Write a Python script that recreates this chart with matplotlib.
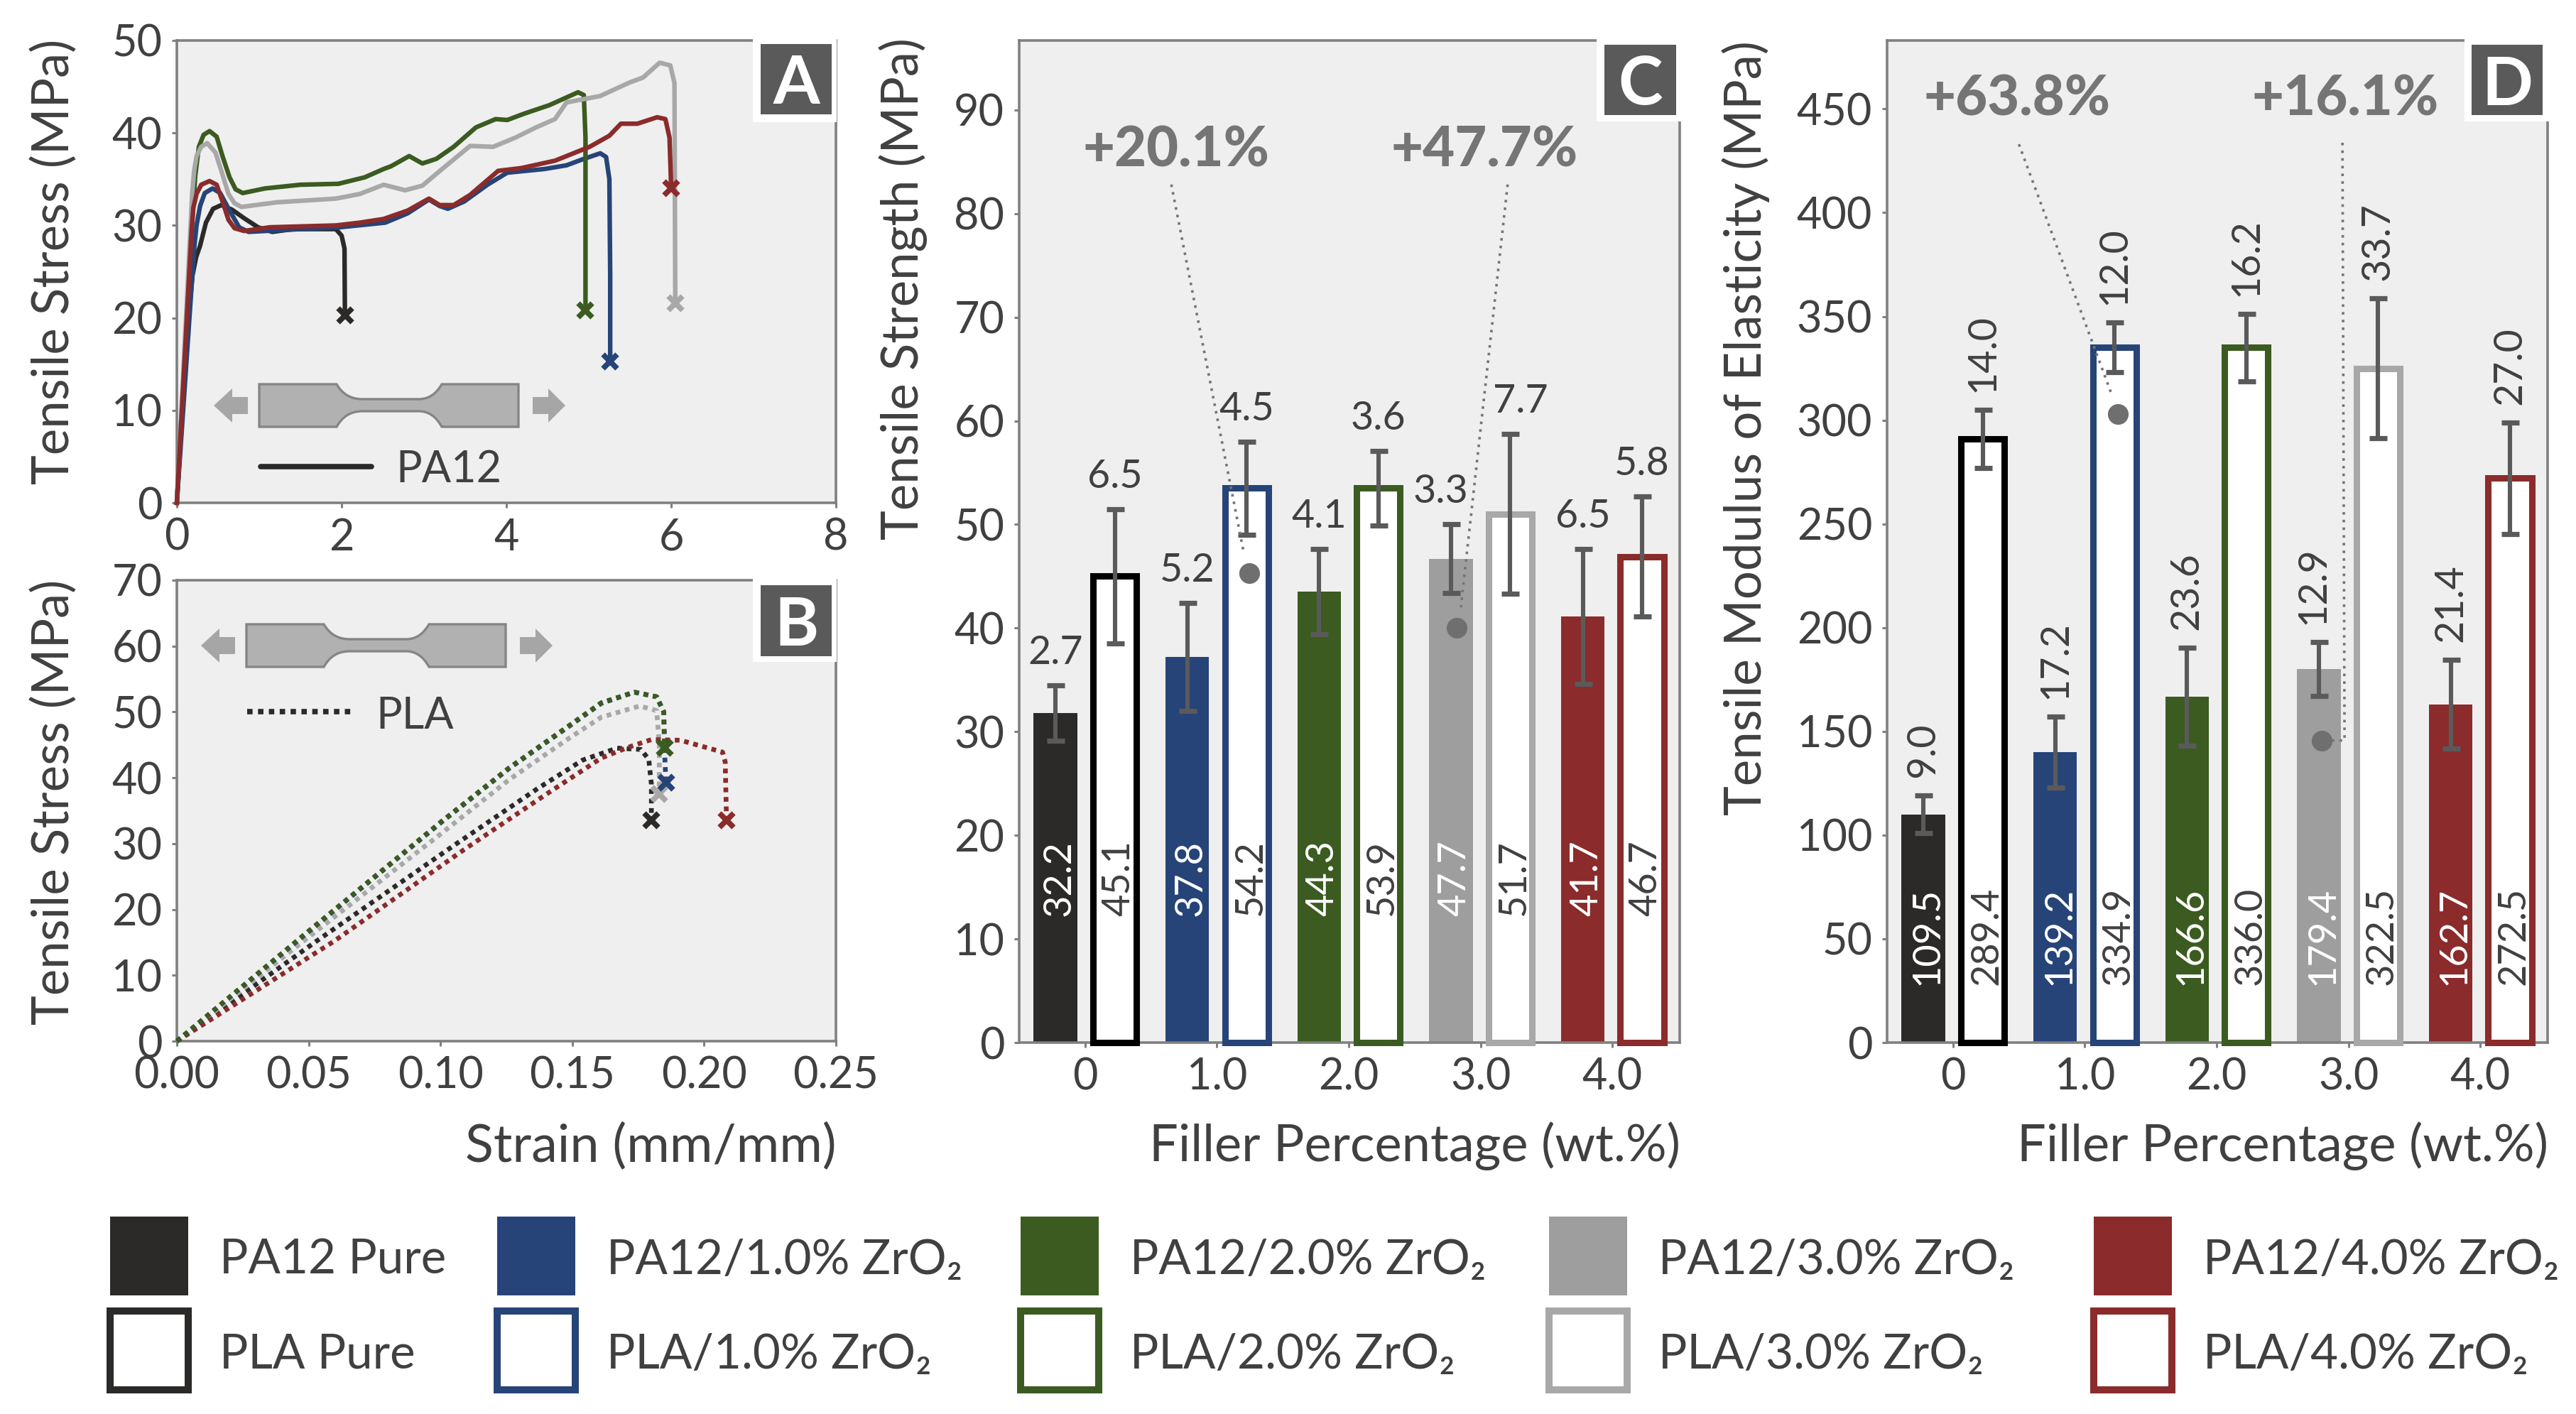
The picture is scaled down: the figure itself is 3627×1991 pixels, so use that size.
import matplotlib
matplotlib.use("Agg")
import matplotlib.pyplot as plt
from matplotlib.patches import Patch, Rectangle, PathPatch, Polygon
from matplotlib.path import Path

plt.rcParams['font.family'] = ['Lato', 'DejaVu Sans']

W, H, DPI = 3627, 1991, 100
TXT = '#404040'
SPINE = '#808080'
BG = '#efefef'
ANN = '#757575'
ERR = '#5a5a5a'

C_BLACK = '#2b2a29'
C_BLUE = '#264478'
C_GREEN = '#3b5b20'
C_GRAY = '#9d9e9d'
C_LGRAY = '#a8a8a8'
C_RED = '#8b2b2b'

# Panel A: PA12 stress-strain curves
a_black_x = [0, .09, .14, .19, .235, .282, .353, .44, .54, .67, .813, .985, 1.158, 1.41, 1.93, 2.0, 2.035, 2.04]
a_black_y = [0, 13.4, 20, 24.6, 26.6, 27.8, 30.3, 31.8, 32.2, 31.7, 30.8, 29.8, 29.3, 29.6, 29.6, 28.9, 27.5, 20.3]
a_blue_x = [0, .21, .239, .282, .339, .434, .526, .64, .756, .87, 1.50, 1.98, 2.53, 2.80, 3.06, 3.19, 3.29, 3.49, 3.77, 4.01, 4.46, 4.73, 4.94, 5.14, 5.21, 5.25, 5.26, 5.26]
a_blue_y = [0, 27.5, 30, 32.1, 33.5, 34, 33.5, 31.6, 29.8, 29.3, 29.6, 29.8, 30.3, 31.3, 32.8, 32.1, 31.8, 32.6, 34.4, 35.7, 36.1, 36.5, 37.2, 37.8, 37.4, 35, 24.6, 15.3]
a_green_x = [0, .167, .187, .224, .267, .325, .397, .483, .554, .64, .713, .80, 1.07, 1.50, 1.96, 2.28, 2.51, 2.60, 2.82, 2.98, 3.15, 3.36, 3.63, 3.87, 4.01, 4.22, 4.52, 4.87, 4.94, 4.96, 4.96]
a_green_y = [0, 27.5, 30.5, 35.4, 38.5, 39.8, 40.2, 39.6, 37.5, 35.2, 33.9, 33.5, 34, 34.4, 34.5, 35.2, 36.1, 36.4, 37.5, 36.7, 37.2, 38.5, 40.6, 41.5, 41.4, 42.1, 43, 44.4, 44.1, 39.5, 20.8]
a_gray_x = [0, .153, .167, .187, .21, .239, .296, .368, .468, .54, .627, .70, .784, 1.216, 1.93, 2.22, 2.51, 2.77, 2.98, 3.22, 3.56, 3.84, 4.11, 4.36, 4.59, 4.73, 5.14, 5.48, 5.66, 5.86, 5.99, 6.04, 6.05]
a_gray_y = [0, 27.5, 30, 33.6, 35.9, 37.5, 38.5, 38.9, 37.9, 35.9, 33.4, 32.4, 32, 32.5, 32.9, 33.4, 34.4, 33.8, 34.3, 36.1, 38.6, 38.5, 39.5, 40.6, 41.5, 43.3, 44, 45.4, 46, 47.6, 47.3, 45.4, 21.6]
a_red_x = [0, .167, .18, .20, .239, .296, .397, .483, .554, .627, .70, .816, 1.13, 1.93, 2.22, 2.51, 2.80, 3.06, 3.19, 3.36, 3.56, 3.90, 4.18, 4.59, 5.01, 5.25, 5.39, 5.59, 5.83, 5.93, 5.98, 6.00]
a_red_y = [0, 27.5, 29.6, 31.9, 33.4, 34.4, 34.8, 34.4, 32.6, 30.6, 29.7, 29.4, 29.8, 30, 30.3, 30.7, 31.6, 32.9, 32.2, 32.2, 33.3, 35.9, 36.2, 37, 38.5, 39.7, 41, 41, 41.7, 41.5, 39.5, 34]

# Panel B: PLA stress-strain curves
b_black_x = [0, .053, .105, .137, .154, .167, .176, .179, .18, .18]
b_black_y = [0, 15.2, 29.7, 38.4, 42.7, 44.5, 44.3, 42.8, 39, 33.5]
b_gray_x = [0, .049, .1005, .126, .148, .161, .1756, .182, .183, .183]
b_gray_y = [0, 15.5, 31.6, 39.7, 45.8, 49.2, 50.9, 50.2, 45.2, 37.5]
b_red_x = [0, .0597, .109, .139, .161, .171, .18, .191, .207, .208, .2085]
b_red_y = [0, 15.2, 29.1, 37.2, 43, 44.6, 45.8, 45.7, 43.9, 42.4, 33.5]
b_blue_x = [0, .049, .1005, .126, .148, .161, .1735, .182, .1847, .185, .1855]
b_blue_y = [0, 16.3, 33.3, 41.4, 47.6, 51.3, 53, 52.3, 50, 44, 39.3]
b_green_x = [0, .049, .1005, .126, .148, .161, .1735, .182, .1847, .185]
b_green_y = [0, 16.4, 33.4, 41.5, 47.7, 51.4, 53, 52.3, 50, 44.5]

# Panel C: tensile strength
loadings = [0, 1, 2, 3, 4]
load_labels = ['0', '1.0', '2.0', '3.0', '4.0']
c_pa12_h = [31.8, 37.2, 43.5, 46.7, 41.1]
c_pla_h = [45.0, 53.5, 53.5, 51.0, 46.9]
c_pa12_err = [2.7, 5.2, 4.1, 3.3, 6.5]
c_pla_err = [6.5, 4.5, 3.6, 7.7, 5.8]
c_pa12_lab = ['32.2', '37.8', '44.3', '47.7', '41.7']
c_pla_lab = ['45.1', '54.2', '53.9', '51.7', '46.7']

# Panel D: tensile modulus
d_pa12_h = [110, 140, 166.7, 180, 163]
d_pla_h = [291, 335, 335, 325, 272]
d_pa12_err = [9.0, 17.2, 23.6, 12.9, 21.4]
d_pla_err = [14.0, 12.0, 16.2, 33.7, 27.0]
d_pa12_lab = ['109.5', '139.2', '166.6', '179.4', '162.7']
d_pla_lab = ['289.4', '334.9', '336.0', '322.5', '272.5']

bar_colors = [C_BLACK, C_BLUE, C_GREEN, C_GRAY, C_RED]
open_colors = ['#000000', C_BLUE, C_GREEN, C_LGRAY, C_RED]
legend_top = ['PA12 Pure', 'PA12/1.0% ZrO₂', 'PA12/2.0% ZrO₂', 'PA12/3.0% ZrO₂', 'PA12/4.0% ZrO₂']
legend_bot = ['PLA Pure', 'PLA/1.0% ZrO₂', 'PLA/2.0% ZrO₂', 'PLA/3.0% ZrO₂', 'PLA/4.0% ZrO₂']

fig = plt.figure(figsize=(W / DPI, H / DPI), dpi=DPI, facecolor='white')


def make_axes(x0, y0, x1, y1):
    ax = fig.add_axes([x0 / W, 1 - y1 / H, (x1 - x0) / W, (y1 - y0) / H])
    ax.set_facecolor(BG)
    for s in ax.spines.values():
        s.set_color(SPINE)
        s.set_linewidth(2.6)
    ax.tick_params(axis='both', colors=SPINE, labelcolor=TXT, labelsize=44,
                   length=5, width=2.2, pad=10)
    return ax


def ylabel(ax, text, px, py):
    ax.set_ylabel(text, fontsize=51, color=TXT, va='center')
    ax.yaxis.set_label_coords(px / W, 1 - py / H, transform=fig.transFigure)


def xlabel(ax, text, px, py, size):
    ax.set_xlabel(text, fontsize=size, color=TXT, loc='right', va='center')
    ax.xaxis.set_label_coords(px / W, 1 - py / H, transform=fig.transFigure)


def px_xy(x, y):
    return (x / W, 1 - y / H)


def badge(letter, white_box, dark_box):
    for box, col, z in ((white_box, 'white', 20), (dark_box, '#5a5a5a', 21)):
        x0, y0, x1, y1 = box
        fig.add_artist(Rectangle(px_xy(x0, y1), (x1 - x0) / W, (y1 - y0) / H,
                                 transform=fig.transFigure, fc=col, ec='none', zorder=z))
    cx, cy = (dark_box[0] + dark_box[2]) / 2, (dark_box[1] + dark_box[3]) / 2
    fig.text(cx / W, 1 - cy / H, letter, color='white', fontsize=68, fontweight='bold',
             ha='center', va='center_baseline', zorder=22)


def specimen(x0, y0):
    w, h = 365, 60
    a, b, c, d = 109, 145, 225, 257
    nt, nb = 21, 38
    verts = [(0, 0), (a, 0), (a + 12, nt), (b, nt), (c, nt), (d - 12, nt), (d, 0), (w, 0),
             (w, h), (d, h), (d - 12, nb), (c, nb), (b, nb), (a + 12, nb), (a, h), (0, h), (0, 0)]
    codes = [Path.MOVETO, Path.LINETO, Path.CURVE3, Path.CURVE3, Path.LINETO, Path.CURVE3, Path.CURVE3, Path.LINETO,
             Path.LINETO, Path.LINETO, Path.CURVE3, Path.CURVE3, Path.LINETO, Path.CURVE3, Path.CURVE3, Path.LINETO, Path.CLOSEPOLY]
    pts = [px_xy(x0 + vx, y0 + vy) for vx, vy in verts]
    fig.add_artist(PathPatch(Path(pts, codes), fc='#b0b1b0', ec='#858585', lw=2.4,
                             transform=fig.transFigure, zorder=5))
    cy = y0 + 30
    for tail, base, tip in ((x0 - 16, x0 - 38, x0 - 64), (x0 + w + 20, x0 + w + 42, x0 + w + 66)):
        arrow = [(tail, cy - 12), (base, cy - 12), (base, cy - 24), (tip, cy), (base, cy + 24),
                 (base, cy + 12), (tail, cy + 12)]
        fig.add_artist(Polygon([px_xy(*p) for p in arrow], closed=True, fc='#a6a6a6', ec='none',
                               transform=fig.transFigure, zorder=5))


def draw_bars(ax, h1, h2, e1, e2, l1, l2, inner_off, rotate_err, err_shift, gap):
    off, wid = 0.225, 0.33
    x1 = [v - off for v in loadings]
    x2 = [v + off for v in loadings]
    ax.bar(x1, h1, wid, color=bar_colors, zorder=2)
    ax.bar(x2, h2, wid, color='white', edgecolor=open_colors, linewidth=6.5, zorder=3, clip_on=False)
    ax.errorbar(x1, h1, yerr=e1, fmt='none', ecolor=ERR, elinewidth=4.4, capsize=9, capthick=5.2, zorder=5)
    ax.errorbar(x2, h2, yerr=e2, fmt='none', ecolor=ERR, elinewidth=4.4, capsize=9, capthick=5.2, zorder=5)
    xs = x1 + x2
    hs = h1 + h2
    errs = e1 + e2
    labs = l1 + l2
    cols = ['white'] * 5 + [TXT] * 5
    for i, (x, hv, e, lab, col) in enumerate(zip(xs, hs, errs, labs, cols)):
        ax.annotate(lab, (x, 0), xytext=(5, inner_off), textcoords='offset pixels', rotation=90,
                    ha='center', va='bottom', fontsize=39, color=col, zorder=7)
        ax.annotate(f'{e:.1f}', (x, hv + e), xytext=(err_shift.get(i, 0), gap), textcoords='offset pixels',
                    rotation=90 if rotate_err else 0, ha='center', va='bottom',
                    fontsize=40, color=TXT, zorder=7)
    ax.set_xlim(-0.5, 4.51)
    ax.set_xticks(loadings)
    ax.set_xticklabels(load_labels)


def callout(ax, text, tx, ty, lx, ly, dx, dy):
    ax.text(tx, ty, text, fontsize=56, fontweight='black', color=ANN, ha='center', va='center', zorder=8)
    ax.plot(lx, ly, color=ANN, lw=2.6, ls=(0, (1, 2)), zorder=6)
    ax.plot([dx], [dy], 'o', color='#6f6f6f', ms=21, mew=0, zorder=6)


# --- Panel A
axA = make_axes(249, 57, 1177, 708)
for x, y, c in [(a_black_x, a_black_y, C_BLACK), (a_blue_x, a_blue_y, C_BLUE),
                (a_green_x, a_green_y, C_GREEN), (a_gray_x, a_gray_y, C_LGRAY),
                (a_red_x, a_red_y, C_RED)]:
    axA.plot(x, y, color=c, lw=4.6, solid_joinstyle='round', clip_on=False, zorder=3)
    axA.plot(x[-1], y[-1], 'x', color=c, ms=14, mew=5.5, zorder=4)
axA.set_xlim(0, 8)
axA.set_ylim(0, 50)
axA.set_xticks([0, 2, 4, 6, 8])
axA.set_yticks(range(0, 51, 10))
axA.plot([1.017, 2.36], [3.9, 3.9], color=C_BLACK, lw=5.5, solid_capstyle='round', zorder=3)
axA.text(2.66, 3.6, 'PA12', fontsize=44, color=TXT, va='center', ha='left')
ylabel(axA, 'Tensile Stress (MPa)', 76, 368)
specimen(365, 541)
badge('A', (1060, 50, 1178, 172), (1071, 62, 1171, 161))

# --- Panel B
axB = make_axes(249, 817, 1177, 1466)
for x, y, c in [(b_black_x, b_black_y, C_BLACK), (b_gray_x, b_gray_y, C_LGRAY),
                (b_red_x, b_red_y, C_RED), (b_blue_x, b_blue_y, C_BLUE),
                (b_green_x, b_green_y, C_GREEN)]:
    axB.plot(x, y, color=c, lw=4.8, ls=(0, (1, 1)), clip_on=False, zorder=3)
    axB.plot(x[-1], y[-1], 'x', color=c, ms=14, mew=5.5, zorder=4)
axB.set_xlim(0, 0.25)
axB.set_ylim(0, 70)
axB.set_xticks([0, .05, .1, .15, .2, .25])
axB.set_xticklabels(['0.00', '0.05', '0.10', '0.15', '0.20', '0.25'])
axB.set_yticks(range(0, 71, 10))
axB.plot([.0268, .0672], [50.1, 50.1], color=C_BLACK, lw=5.5, ls=(0, (1, 1)), zorder=3)
axB.text(.0755, 49.3, 'PLA', fontsize=44, color=TXT, va='center', ha='left')
ylabel(axB, 'Tensile Stress (MPa)', 76, 1129)
xlabel(axB, 'Strain (mm/mm)', 1178, 1615, 53)
specimen(347, 879)
badge('B', (1060, 810, 1178, 932), (1071, 824, 1171, 924))

# --- Panel C
axC = make_axes(1435, 57, 2365, 1468)
draw_bars(axC, c_pa12_h, c_pla_h, c_pa12_err, c_pla_err, c_pa12_lab, c_pla_lab,
          178, False, {3: -14, 8: 14}, 20)
axC.set_ylim(0, 96.7)
axC.set_yticks(range(0, 91, 10))
callout(axC, '+20.1%', 0.69, 86.1, [0.654, 1.20], [82.8, 47.5], 1.243, 45.3)
callout(axC, '+47.7%', 3.03, 86.1, [3.205, 2.85], [82.8, 42], 2.82, 40)
ylabel(axC, 'Tensile Strength (MPa)', 1272, 407)
xlabel(axC, 'Filler Percentage (wt.%)', 2366, 1614, 52)
badge('C', (2248, 50, 2367, 171), (2259, 63, 2360, 162))

# --- Panel D
axD = make_axes(2657, 57, 3587, 1468)
draw_bars(axD, d_pa12_h, d_pla_h, d_pa12_err, d_pla_err, d_pa12_lab, d_pla_lab,
          81, True, {3: -8}, 25)
axD.set_ylim(0, 483)
axD.set_yticks(range(0, 451, 50))
callout(axD, '+63.8%', 0.486, 454.5, [0.50, 1.20], [433, 313], 1.253, 303)
callout(axD, '+16.1%', 2.975, 454.5, [2.954, 2.97, 2.85], [433.7, 145.6, 145.6], 2.797, 145.6)
ylabel(axD, 'Tensile Modulus of Elasticity (MPa)', 2458, 603)
xlabel(axD, 'Filler Percentage (wt.%)', 3588, 1614, 52)
badge('D', (3470, 50, 3590, 171), (3480, 63, 3580, 162))

# --- Legend
leg_x = [155, 700, 1437, 2181, 2948]
FS = 48.5
em = FS / 72 * DPI
for i, lx in enumerate(leg_x):
    hs = [Patch(fc=bar_colors[i], ec='none'),
          Patch(fc='white', ec=bar_colors[i] if i != 3 else C_LGRAY, lw=7.2)]
    leg = fig.legend(handles=hs, labels=[legend_top[i], legend_bot[i]], loc='upper left',
                     bbox_to_anchor=px_xy(lx, 1713), bbox_transform=fig.transFigure, frameon=False,
                     fontsize=FS, labelcolor=TXT, handlelength=110 / em,
                     handleheight=(111 / em - 0.245) / 0.65,
                     labelspacing=22 / em, handletextpad=44 / em, borderpad=0, borderaxespad=0)
    for t in leg.get_texts():
        t.set_y(-4)

fig.savefig('out.png', dpi=DPI, facecolor='white')
